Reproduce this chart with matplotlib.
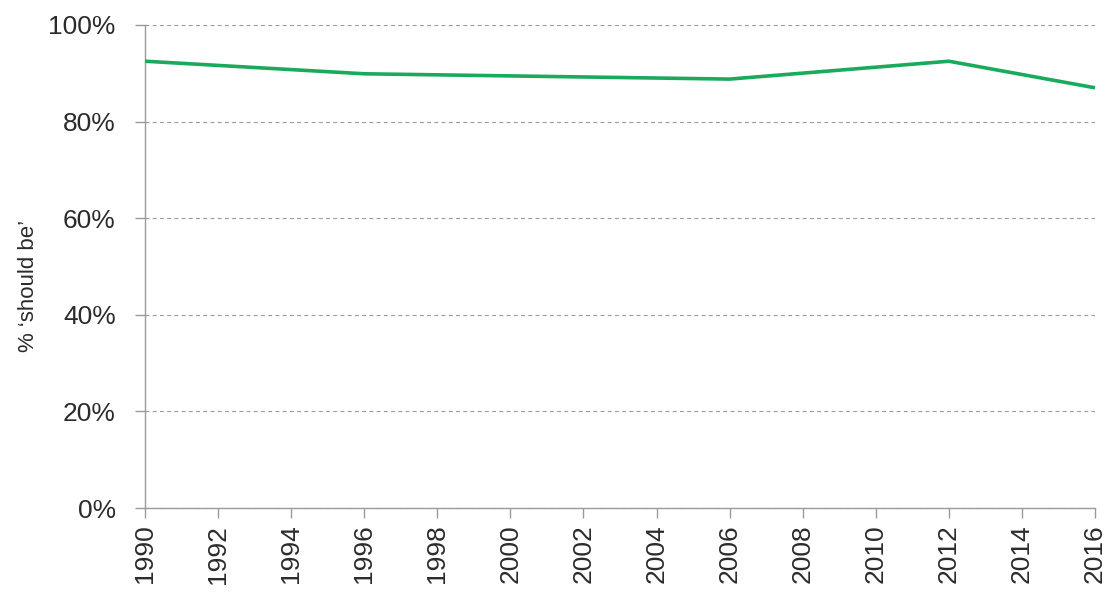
import matplotlib
matplotlib.use("Agg")
import matplotlib.pyplot as plt
from matplotlib.ticker import FuncFormatter

# ── Data ──────────────────────────────────────────────────────────────────────
years  = [1990, 1996, 2006, 2012, 2016]
values = [92.5, 89.9, 88.8, 92.5, 87.0]
x_ticks = list(range(1990, 2017, 2))
y_ticks = [0, 20, 40, 60, 80, 100]

GREEN = "#1BAA5C"
AXIS  = "#9A9A9A"
TEXT  = "#2B2B2B"

plt.rcParams["font.family"] = ["Liberation Sans", "DejaVu Sans"]

fig = plt.figure(figsize=(11.12, 5.94), dpi=100)
ax = fig.add_axes([145 / 1112, 1 - 508 / 594, 950 / 1112, 483 / 594])

ax.plot(years, values, color=GREEN, linewidth=2.6, solid_capstyle="butt",
        zorder=3, clip_on=False)

ax.set_xlim(1990, 2016)
ax.set_ylim(0, 100)
ax.set_xticks(x_ticks)
ax.set_yticks(y_ticks)
ax.yaxis.set_major_formatter(FuncFormatter(lambda v, _: f"{v:.0f}%"))
ax.tick_params(axis="x", labelrotation=90, labelsize=19, colors=AXIS,
               labelcolor=TEXT, length=7, width=1, pad=5)
ax.tick_params(axis="y", labelsize=19, colors=AXIS, labelcolor=TEXT,
               length=7, width=1, pad=14)

for side in ("top", "right"):
    ax.spines[side].set_visible(False)
for side in ("left", "bottom"):
    ax.spines[side].set_color(AXIS)
    ax.spines[side].set_linewidth(1.0)

ax.grid(axis="y", linestyle=(0, (3.5, 3)), color=AXIS, linewidth=0.8, zorder=1)
ax.set_axisbelow(True)

ax.set_ylabel("% \u2018should be\u2019", fontsize=16, color=TEXT)
ax.yaxis.set_label_coords(-0.112, 0.46)

fig.savefig("out.png", dpi=100)
